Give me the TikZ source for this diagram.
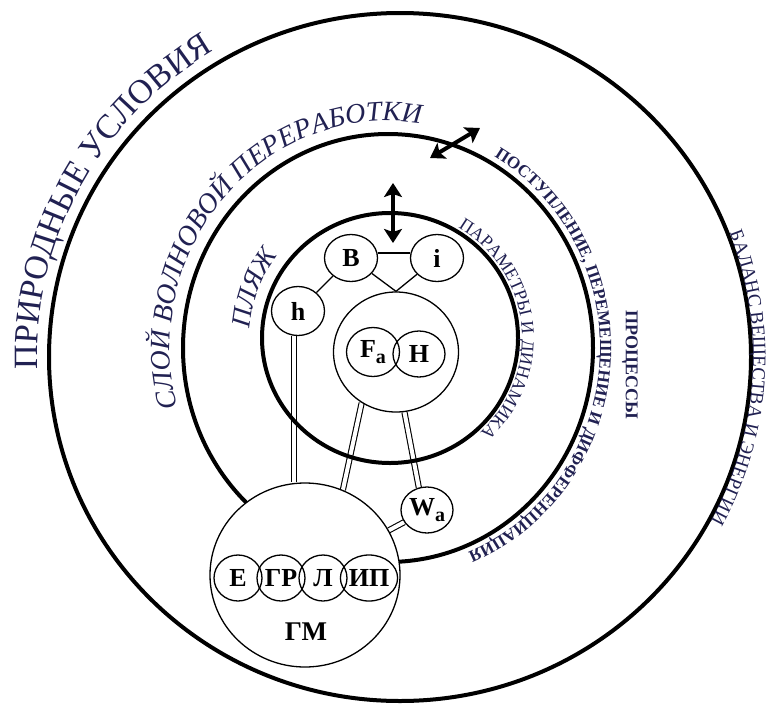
\documentclass[tikz,border=0pt]{standalone}
\usepackage{fontspec}
\setmainfont{Liberation Serif}
\usetikzlibrary{shapes.geometric,decorations.text,arrows.meta}
\newlength{\du}
\setlength{\du}{1pt}
\definecolor{dialabel}{rgb}{0.130000, 0.130000, 0.320000}
\pgfdeclarelayer{links}
\pgfdeclarelayer{rings}
\pgfsetlayers{links,rings,main}
\tikzset{
  ring/.style={line width=4\du},
  blob/.style={draw,ellipse,line width=1.3\du,inner sep=0pt,
    minimum width=53\du,minimum height=47\du,
    font=\bfseries\fontsize{26}{26}\selectfont},
  hub/.style={draw,ellipse,fill=white,line width=1.3\du,inner sep=0pt},
  sub/.style={blob,minimum width=48\du,minimum height=46\du},
  tie/.style={line width=1.3\du},
  dbl/.style={double,double distance=4\du,line width=1.1\du},
  flow/.style={line width=4\du,{Stealth[length=14pt,width=18pt,inset=3pt]}-{Stealth[length=14pt,width=18pt,inset=3pt]}},
  curvetext/.style={decorate,decoration={text along path,text color=dialabel,text={#1}}}
}
\begin{document}
\begin{tikzpicture}[x=\du,y=-\du]
\useasboundingbox (0,0) rectangle (768,704);
% rings
\begin{pgfonlayer}{rings}
\draw[ring] (400,357) ellipse [x radius=351,y radius=344];
\draw[ring] (388,348) ellipse [x radius=205,y radius=214];
\draw[ring] (390,338) ellipse [x radius=128,y radius=125];
\end{pgfonlayer}
% ring texts
\path[curvetext={|\fontsize{34}{34}\selectfont|ПРИРОДНЫЕ УСЛОВИЯ}]
  (400,357) ++(178:363 and 356) arc[start angle=178,end angle=262,x radius=363,y radius=356];
\path[curvetext={|\itshape\fontsize{28}{28}\selectfont|СЛОЙ ВОЛНОВОЙ ПЕРЕРАБОТКИ}]
  (388,348) ++(164.7:218 and 227) arc[start angle=164.7,end angle=300,x radius=218,y radius=227];
\path[curvetext={|\itshape\fontsize{27}{27}\selectfont|ПЛЯЖ}]
  (390,338) ++(184:140 and 137) arc[start angle=184,end angle=250,x radius=140,y radius=137];
\path[curvetext={|\bfseries\fontsize{17}{17}\selectfont|ПОСТУПЛЕНИЕ, ПЕРЕМЕЩЕНИЕ И ДИФФЕРЕНЦИАЦИЯ}]
  (388,348) ++(300:212 and 221) arc[start angle=300,end angle=440,x radius=212,y radius=221];
\path[curvetext={|\fontsize{18}{18}\selectfont|ПАРАМЕТРЫ И ДИНАМИКА}]
  (390,338) ++(301:132 and 129) arc[start angle=301,end angle=420,x radius=132,y radius=129];
\path[curvetext={|\fontsize{19}{19}\selectfont|БАЛАНС ВЕЩЕСТВА И ЭНЕРГИИ}]
  (400,357) ++(339:353 and 346) arc[start angle=339,end angle=420,x radius=353,y radius=346];
\node[rotate=-90,text=dialabel,font=\bfseries\fontsize{18}{18}\selectfont] (proc) at (630,365) {ПРОЦЕССЫ};
% beach parameters
\node[blob] (B) at (351,258) {В};
\node[blob] (i) at (437,258) {i};
\node[blob,minimum height=49\du] (h) at (298,311) {h};
\node[hub,minimum width=125\du,minimum height=120\du] (FH) at (396,352) {};
\node[blob,minimum height=49\du] (Fa) at (373,352) {F\lower6\du\hbox{\fontsize{20}{20}\selectfont a}};
\node[blob,minimum width=52\du,minimum height=46\du] (H) at (419,354) {H};
\node[blob,minimum width=52\du,minimum height=46\du] (Wa) at (427,510) {W\lower6\du\hbox{\fontsize{20}{20}\selectfont a}};
% sediment
\node[hub,minimum width=190\du,minimum height=184\du] (GM) at (305,575) {};
\node[sub] (E) at (238,578) {Е};
\node[sub] (GR) at (281,578) {ГР};
\node[sub] (L) at (323,578) {Л};
\node[sub] (IP) at (369,578) {ИП};
\node[font=\bfseries\fontsize{27}{27}\selectfont] (GMtext) at (306,632) {ГМ};
% exchange arrows
\coordinate (vtop) at (393,183);
\coordinate (vbot) at (393,243);
\coordinate (dlow) at (430,158);
\coordinate (dhigh) at (480,128);
\draw[flow] (vtop) -- (vbot);
\draw[flow] (dlow) -- (dhigh);
% links
\draw[tie] (B.east |- 0,253) -- (i.west |- 0,253);
\draw[tie] (B) -- (h);
\draw[tie] (B) -- (FH.north);
\draw[tie] (i) -- (FH.north);
\begin{pgfonlayer}{links}
\draw[dbl] (h.260) -- (h.260 |- GM.north);
\draw[dbl] (FH.236) -- (GM.66);
\draw[dbl] (FH.278) -- (Wa.110);
\draw[dbl] (Wa) -- (GM);
\end{pgfonlayer}
\end{tikzpicture}
\end{document}
